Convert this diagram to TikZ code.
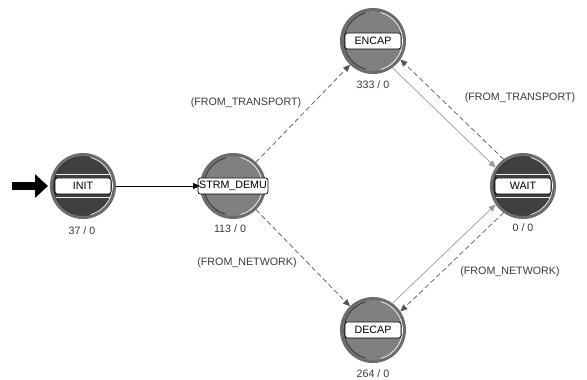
\documentclass[tikz,border=0pt]{standalone}
\usepackage{fontspec}
\setmainfont{Liberation Sans}
\usetikzlibrary{arrows.meta}
\definecolor{darkfill}{HTML}{404040}
\definecolor{midfill}{HTML}{808080}
\definecolor{ringc}{HTML}{6C6C6C}
\definecolor{dashc}{HTML}{555555}
\definecolor{solidc}{HTML}{9A9A9A}
\definecolor{txtc}{HTML}{3A3A3A}
\tikzset{
  stnode/.style={circle, minimum size=63pt, inner sep=0pt, draw=ringc, line width=3pt},
  darkst/.style={stnode, fill=darkfill},
  midst/.style={stnode, fill=midfill},
  namebox/.style={draw=black, fill=white, rounded corners=2.5pt, line width=0.7pt,
    minimum width=56pt, minimum height=16pt, inner sep=0pt,
    font=\fontsize{10.7}{12}\selectfont},
  cnt/.style={font=\fontsize{10.7}{12}\selectfont, text=txtc, inner sep=0pt},
  elabel/.style={font=\fontsize{10.7}{12}\selectfont, text=txtc, inner sep=0pt},
  tip/.style={-{Triangle[length=7pt,width=6pt]}},
  dashedge/.style={tip, draw=dashc, dashed, dash pattern=on 5pt off 3pt, line width=0.7pt},
  solidedge/.style={tip, draw=solidc, line width=0.7pt},
  hilite/.style={draw=white, line width=0.7pt},
  shade/.style={draw=black!80, line width=0.8pt},
  band/.style={draw=white!85!gray, line width=0.6pt}
}
\begin{document}
\begin{tikzpicture}[x=1pt,y=1pt]
\fill[white] (0,0) rectangle (587,380);
\useasboundingbox (0,0) rectangle (587,380);

% states
\node[darkst] (init) at (83,194) {};
\node[midst] (strm) at (233,194) {};
\node[midst] (encap) at (373,339) {};
\node[darkst] (wait) at (523,194) {};
\node[midst] (decap) at (373,50) {};

% highlights and shades on rings
\foreach \n in {init,strm,encap,wait,decap}{
  \draw[hilite] (\n) ++(-75:29.5) arc(-75:75:29.5);
  \draw[shade] (\n) ++(105:29) arc(105:255:29);
}
% bands on dark states
\foreach \n in {init,wait}{
  \draw[band] (\n) ++(-27,11.5) -- ++(54,0);
  \draw[band] (\n) ++(-27,-11.5) -- ++(54,0);
}

% name boxes
\node[namebox] (initL) at (init) {INIT};
\node[namebox, minimum width=70pt] (strmL) at (strm) {STRM\_DEMU};
\node[namebox] (encapL) at (encap) {ENCAP};
\node[namebox] (waitL) at (wait) {WAIT};
\node[namebox] (decapL) at (decap) {DECAP};

% counters
\node[cnt] (initC) at (82,149) {37 / 0};
\node[cnt] (strmC) at (230,151) {113 / 0};
\node[cnt] (encapC) at (373,295) {333 / 0};
\node[cnt] (waitC) at (523,152) {0 / 0};
\node[cnt] (decapC) at (373,6) {264 / 0};

% initial arrow
\coordinate (start) at (12,194);
\draw[line width=8pt, -{Triangle[length=13pt,width=23pt]}] (start) -- ([xshift=-2pt]init.west);

% transitions
\draw[tip, draw=black, line width=0.7pt] (init) -- (strm);
\draw[dashedge] (strm) -- (encap);
\draw[dashedge] (strm) -- (decap);
\draw[solidedge] (encap.-54) -- (wait.146);
\draw[dashedge] (wait.126) -- (encap.-34);
\draw[solidedge] (decap.54) -- (wait.214);
\draw[dashedge] (wait.234) -- (decap.34);

% edge labels
\node[elabel] (l1) at (246,277) {(FROM\_TRANSPORT)};
\node[elabel] (l2) at (520,282) {(FROM\_TRANSPORT)};
\node[elabel] (l3) at (247,117) {(FROM\_NETWORK)};
\node[elabel] (l4) at (510,108) {(FROM\_NETWORK)};
\end{tikzpicture}
\end{document}
